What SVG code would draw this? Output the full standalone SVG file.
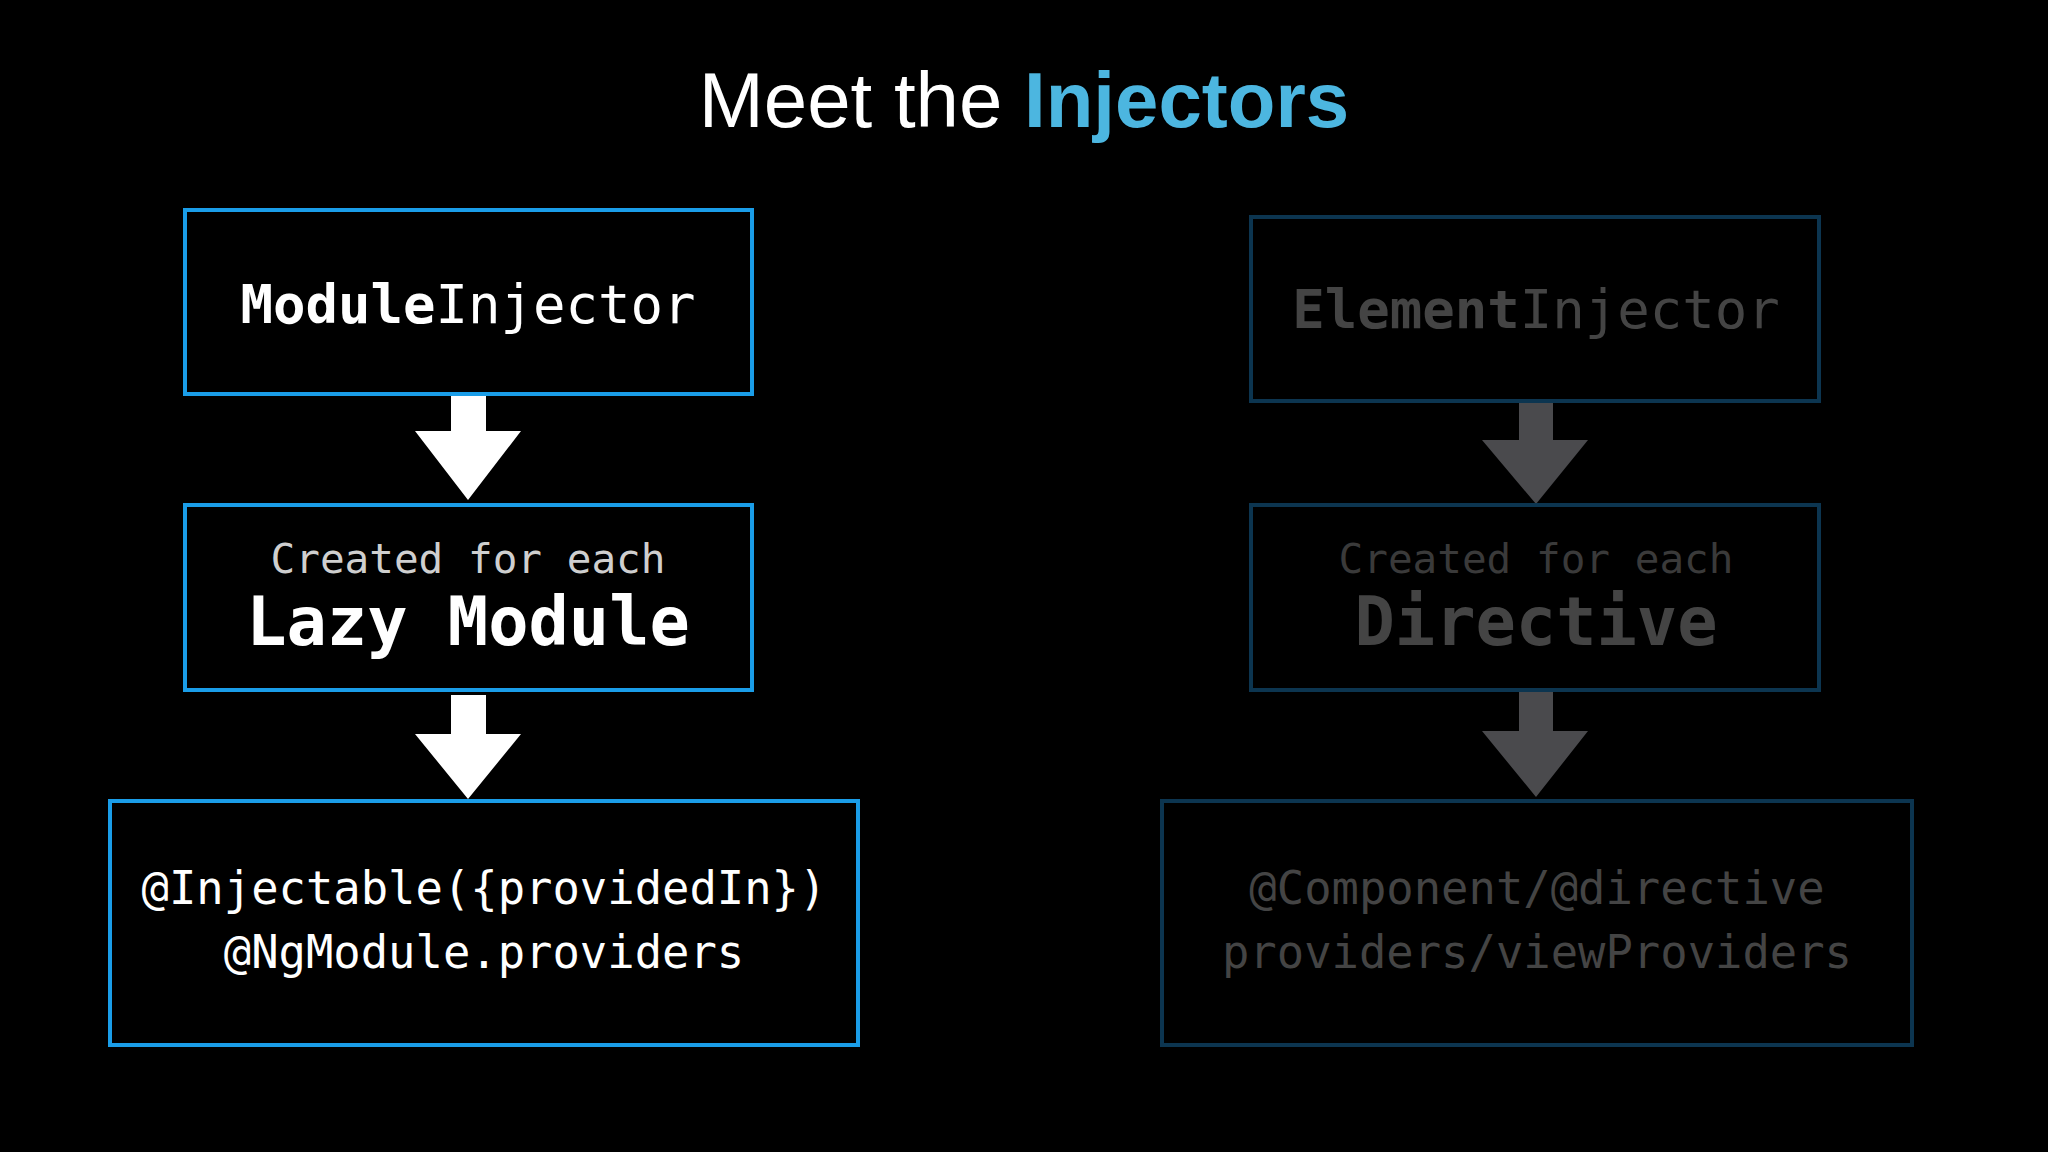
<svg xmlns="http://www.w3.org/2000/svg" width="2048" height="1152" viewBox="0 0 2048 1152">
<style>
.box{fill:#000;stroke:#1a9de8;stroke-width:4}
.dbox{fill:#000;stroke:#0c3550;stroke-width:4}
.m{font-family:"DejaVu Sans Mono","Liberation Mono",monospace;text-anchor:middle}
.w{fill:#fff}.g{fill:#cfcfcf}.d{fill:#444}.dd{fill:#3a3a3a}
</style>
<rect width="2048" height="1152" fill="#000"/>
<text x="1024" y="127" font-family="Helvetica,'Liberation Sans',Arial,sans-serif" font-size="78" text-anchor="middle" fill="#fff">Meet the <tspan fill="#4cb6e0" font-weight="bold">Injectors</tspan></text>
<g id="connectors">
<polygon fill="#fff" points="451,394 486,394 486,431 521,431 468,500 415,431 451,431"/>
<polygon fill="#fff" points="451,695 486,695 486,734 521,734 468,799 415,734 451,734"/>
<polygon fill="#4a4a4d" points="1519,401 1553,401 1553,440 1588,440 1536,504 1482,440 1519,440"/>
<polygon fill="#4a4a4d" points="1519,692 1553,692 1553,731 1588,731 1536,797 1482,731 1519,731"/>
</g>
<g id="moduleInjector"><rect class="box" x="185" y="210" width="567" height="184"/>
<text class="m w" x="468" y="323" font-size="54"><tspan font-weight="bold">Module</tspan>Injector</text></g>
<g id="lazyModule"><rect class="box" x="185" y="505" width="567" height="185"/>
<text class="m g" x="468" y="573" font-size="41">Created for each</text>
<text class="m w" x="468" y="645" font-size="67" font-weight="bold">Lazy Module</text></g>
<g id="moduleProviders"><rect class="box" x="110" y="801" width="748" height="244"/>
<text class="m w" x="484" y="904" font-size="45.5">@Injectable({providedIn})</text>
<text class="m w" x="484" y="968" font-size="45.5">@NgModule.providers</text></g>
<g id="elementInjector"><rect class="dbox" x="1251" y="217" width="568" height="184"/>
<text class="m d" x="1536" y="328" font-size="54"><tspan font-weight="bold">Element</tspan>Injector</text></g>
<g id="directive"><rect class="dbox" x="1251" y="505" width="568" height="185"/>
<text class="m dd" x="1536" y="573" font-size="41">Created for each</text>
<text class="m d" x="1536" y="645" font-size="67" font-weight="bold">Directive</text></g>
<g id="elementProviders"><rect class="dbox" x="1162" y="801" width="750" height="244"/>
<text class="m d" x="1537" y="904" font-size="45.5">@Component/@directive</text>
<text class="m d" x="1537" y="968" font-size="45.5">providers/viewProviders</text></g>
</svg>
